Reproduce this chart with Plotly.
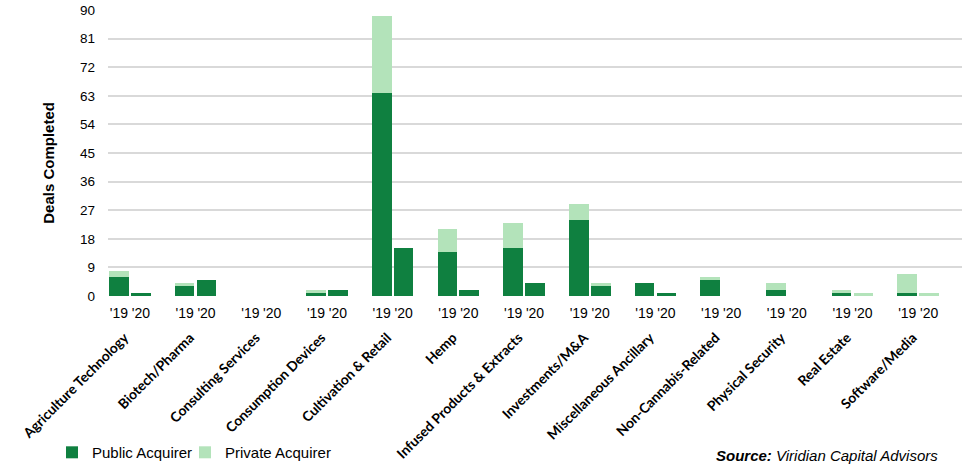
import plotly.graph_objects as go

categories = ["Agriculture Technology", "Biotech/Pharma", "Consulting Services",
              "Consumption Devices", "Cultivation & Retail", "Hemp",
              "Infused Products & Extracts", "Investments/M&A", "Miscellaneous Ancillary",
              "Non-Cannabis-Related", "Physical Security", "Real Estate", "Software/Media"]
years = ["'19", "'20"]
public_19 = [6, 3, 0, 1, 64, 14, 15, 24, 4, 5, 2, 1, 1]
private_19 = [2, 1, 0, 1, 24, 7, 8, 5, 0, 1, 2, 1, 6]
public_20 = [1, 5, 0, 2, 15, 2, 4, 3, 1, 0, 0, 0, 0]
private_20 = [0, 0, 0, 0, 0, 0, 0, 1, 0, 0, 0, 1, 1]
y_ticks = [0, 9, 18, 27, 36, 45, 54, 63, 72, 81, 90]

DARK = "#0F8040"
LIGHT = "#B3E3BA"
FONT = "Liberation Sans, Arial, sans-serif"

# each category occupies three slots: '19, '20, and an empty spacer
n = len(categories)
xs, pub, priv, ticktext = [], [], [], []
for i in range(n):
    for j, (p, q) in enumerate([(public_19[i], private_19[i]), (public_20[i], private_20[i])]):
        xs.append(3 * i + j)
        pub.append(p)
        priv.append(q)
        ticktext.append(years[j])
cat_pos = [3 * i + 0.25 for i in range(n)]

fig = go.Figure()
fig.add_trace(go.Bar(x=xs, y=pub, name="Public Acquirer", marker=dict(color=DARK, line=dict(width=0)),
                     width=0.9, legend="legend"))
fig.add_trace(go.Bar(x=xs, y=priv, name="Private Acquirer", marker=dict(color=LIGHT, line=dict(width=0)),
                     width=0.9, legend="legend2"))
# invisible trace to carry the category axis
fig.add_trace(go.Scatter(x=cat_pos, y=[0] * n, xaxis="x2", mode="markers",
                         marker=dict(opacity=0), showlegend=False, hoverinfo="skip"))

legend_style = dict(orientation="h", xref="container", yref="container", xanchor="left",
                    y=0.033, yanchor="middle",
                    font=dict(family=FONT, size=15, color="#000000"), bgcolor="rgba(0,0,0,0)")

fig.update_layout(
    barmode="relative",
    width=974, height=468,
    margin=dict(l=108, r=12, t=10, b=172),
    paper_bgcolor="white", plot_bgcolor="white",
    font=dict(family=FONT, size=14, color="#000000"),
    bargap=0,
    xaxis=dict(range=[-0.5, 3 * n - 0.5], tickmode="array", tickvals=xs, ticktext=ticktext,
               showgrid=False, zeroline=False, showline=False, ticks="",
               tickfont=dict(family=FONT, size=14, color="#000000"),
               ticklabelstandoff=7, automargin=False),
    xaxis2=dict(range=[-0.5, 3 * n - 0.5], overlaying="x", anchor="y", side="bottom",
                tickmode="array", tickvals=cat_pos, ticktext=categories, tickangle=-45,
                showgrid=False, zeroline=False, showline=False, ticks="",
                tickfont=dict(family="Lato, Open Sans, sans-serif", size=13.8, color="#000000", weight="bold"),
                ticklabelstandoff=30, automargin=False),
    yaxis=dict(range=[0, 90], tickmode="array", tickvals=y_ticks,
               showgrid=True, gridcolor="#D9D9D9", gridwidth=2, zeroline=False, showline=False,
               ticks="", tickfont=dict(family=FONT, size=13.5, color="#000000"),
               ticklabelstandoff=12, automargin=False),
    legend=dict(legend_style, x=52 / 974),
    legend2=dict(legend_style, x=185 / 974),
    showlegend=True,
    annotations=[
        dict(text="<b>Deals Completed</b>", textangle=-90, xref="paper", yref="paper",
             x=-0.069, y=0.466, xanchor="center", yanchor="middle", showarrow=False,
             font=dict(family=FONT, size=15, color="#000000")),
        dict(text="<b><i>Source:</i></b><i> Viridian Capital Advisors</i>", xref="paper", yref="paper",
             x=0.9745, y=-0.556, xanchor="right", yanchor="middle", showarrow=False,
             font=dict(family=FONT, size=15, color="#000000")),
    ],
)

fig.write_html("out.html", config={"displayModeBar": False},
               post_script="document.body.style.margin='0';")
